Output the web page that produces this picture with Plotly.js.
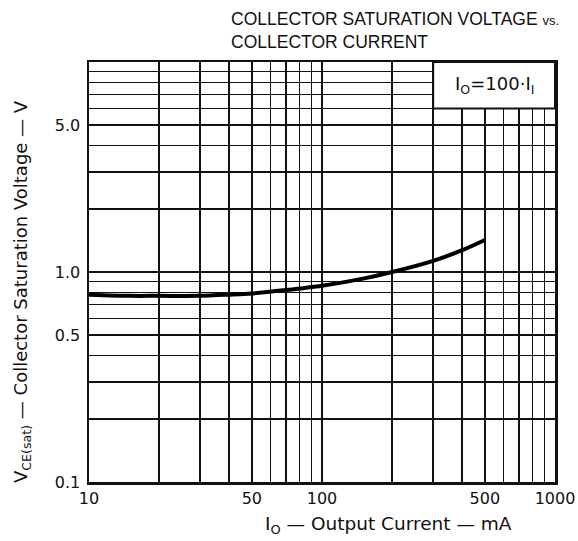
<!DOCTYPE html>
<html>
<head>
<meta charset="utf-8">
<script src="https://cdn.plot.ly/plotly-3.0.1.min.js"></script>
<style>html,body{margin:0;padding:0;background:#fff;}#chart{width:578px;height:541px;}</style>
</head>
<body>
<div id="chart"></div>
<script>
// Output current (mA) and VCE(sat) (V)
const currentMA = [10, 15, 20, 30, 40, 50, 70, 100, 150, 200, 300, 400, 500];
const vceSat   = [0.78, 0.77, 0.77, 0.77, 0.78, 0.79, 0.82, 0.86, 0.93, 1.0, 1.13, 1.27, 1.42];

// Labelled ticks
const xTickVals = [10, 50, 100, 500, 1000];
const xTickText = ['10', '50', '100', '500', '1000'];
const yTickVals = [0.1, 0.5, 1, 5];
const yTickText = ['0.1', '0.5', '1.0', '5.0'];
// Log grid lines
const xGridVals = [10,20,30,40,50,60,70,80,90,100,200,300,400,500,600,700,800,900,1000];
const yGridVals = [0.1,0.2,0.3,0.4,0.5,0.6,0.7,0.8,0.9,1,2,3,4,5,6,7,8,9,10];

const FONT = 'DejaVu Sans, Verdana, sans-serif';
const TFONT = 'Liberation Sans, Arial, sans-serif';
const INK = '#111';

const trace = {
  x: currentMA, y: vceSat, type: 'scatter', mode: 'lines',
  line: {color: '#000', width: 4, shape: 'spline', smoothing: 0.8},
  hoverinfo: 'skip', showlegend: false
};

const boxX0 = (Math.log10(300) - 1) / 2;
const boxY0 = (Math.log10(6) + 1) / 2;

const layout = {
  width: 578, height: 541,
  margin: {l: 89, r: 23, t: 62, b: 59},
  paper_bgcolor: '#fff', plot_bgcolor: '#fff',
  font: {family: FONT, color: INK, size: 17},
  xaxis: {
    type: 'log', range: [1, 3],
    tickmode: 'array', tickvals: xTickVals, ticktext: xTickText,
    minor: {tickmode: 'array', tickvals: xGridVals, showgrid: true, gridcolor: INK, gridwidth: 1.6, ticks: ''},
    showgrid: true, gridcolor: INK, gridwidth: 1.6,
    showline: true, linecolor: INK, linewidth: 2.5, mirror: true,
    ticks: '', zeroline: false, fixedrange: true,
    tickfont: {family: FONT, size: 16, color: INK}
  },
  yaxis: {
    type: 'log', range: [-1, 1],
    tickmode: 'array', tickvals: yTickVals, ticktext: yTickText,
    minor: {tickmode: 'array', tickvals: yGridVals, showgrid: true, gridcolor: INK, gridwidth: 1.6, ticks: ''},
    showgrid: true, gridcolor: INK, gridwidth: 1.6,
    showline: true, linecolor: INK, linewidth: 2.5, mirror: true,
    ticks: '', zeroline: false, fixedrange: true,
    tickfont: {family: FONT, size: 16, color: INK},
    ticklabelstandoff: 3
  },
  shapes: [{
    type: 'rect', xref: 'paper', yref: 'paper', layer: 'above',
    x0: boxX0, x1: 1, y0: boxY0, y1: 1,
    fillcolor: '#fff', line: {color: INK, width: 2}
  }],
  annotations: [
    {
      text: 'COLLECTOR SATURATION VOLTAGE <span style="font-size:13px">vs.</span>',
      xref: 'paper', yref: 'paper', x: (229 - 89) / 466, y: 1 + (62 - 19) / 420,
      xanchor: 'left', yanchor: 'middle', showarrow: false,
      font: {family: TFONT, size: 17.5, color: INK}
    },
    {
      text: 'COLLECTOR CURRENT',
      xref: 'paper', yref: 'paper', x: (229 - 89) / 466, y: 1 + (62 - 42) / 420,
      xanchor: 'left', yanchor: 'middle', showarrow: false,
      font: {family: TFONT, size: 17.5, color: INK}
    },
    {
      text: 'I<sub>O</sub>=100·I<sub>I</sub>',
      xref: 'paper', yref: 'paper',
      x: (boxX0 + 1) / 2, y: (boxY0 + 1) / 2,
      xanchor: 'center', yanchor: 'middle', showarrow: false,
      font: {family: FONT, size: 18, color: INK}
    },
    {
      text: 'I<sub>O</sub> — Output Current — mA',
      xref: 'paper', yref: 'paper',
      x: (388 - 89) / 466, y: -(525 - 482) / 420, xanchor: 'center', yanchor: 'middle',
      showarrow: false,
      font: {family: FONT, size: 18.5, color: INK}
    },
    {
      text: 'V<sub>CE(sat)</sub> — Collector Saturation Voltage — V',
      xref: 'paper', yref: 'paper', textangle: -90,
      x: (22 - 89) / 466, y: (482 - 292) / 420, xanchor: 'center', yanchor: 'middle',
      showarrow: false,
      font: {family: FONT, size: 18, color: INK}
    }
  ]
};

Plotly.newPlot('chart', [trace], layout, {displayModeBar: false, staticPlot: true});
</script>
</body>
</html>
